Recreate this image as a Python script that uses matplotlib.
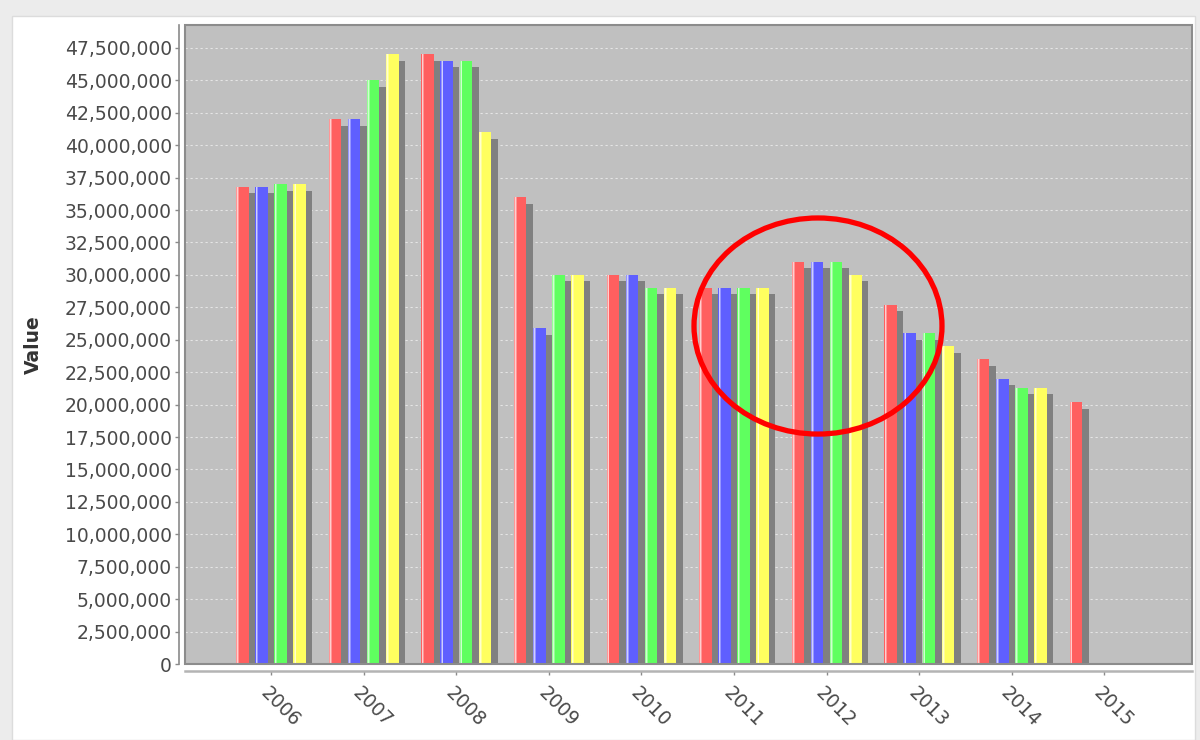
import numpy as np
import matplotlib
matplotlib.use('Agg')
import matplotlib.pyplot as plt
from matplotlib.patches import Ellipse, Rectangle
from matplotlib.transforms import ScaledTranslation, blended_transform_factory, offset_copy
from matplotlib.ticker import FuncFormatter, MultipleLocator

# ---------------- data ----------------
years = ['2006', '2007', '2008', '2009', '2010', '2011', '2012', '2013', '2014', '2015']
series_red = [36.8e6, 42.0e6, 47.0e6, 36.0e6, 30.0e6, 29.0e6, 31.0e6, 27.7e6, 23.5e6, 20.2e6]
series_blue = [36.8e6, 42.0e6, 46.5e6, 25.9e6, 30.0e6, 29.0e6, 31.0e6, 25.5e6, 22.0e6, None]
series_green = [37.0e6, 45.0e6, 46.5e6, 30.0e6, 29.0e6, 29.0e6, 31.0e6, 25.5e6, 21.3e6, None]
series_yellow = [37.0e6, 47.0e6, 41.0e6, 30.0e6, 29.0e6, 29.0e6, 30.0e6, 24.5e6, 21.3e6, None]
series_list = [series_red, series_blue, series_green, series_yellow]
colors = ['#FF5F5F', '#5F5FFF', '#5FFF5F', '#FFFF5F']

plt.rcParams['font.family'] = ['DejaVu Sans']

W, H, DPI = 1200, 740, 100
PT = 72.0 / DPI  # points per pixel
fig = plt.figure(figsize=(W / DPI, H / DPI), dpi=DPI)
fig.patch.set_facecolor('#ececec')
# white panel (screenshot frame)
fig.patches.append(Rectangle((12 / W, 0), (1195 - 12) / W, (H - 16) / H,
                             transform=fig.transFigure, facecolor='white',
                             edgecolor='#dcdcdc', lw=1, zorder=-5))

L, R, T, B = 185, 1192, 25, 664
ax = fig.add_axes([L / W, (H - B) / H, (R - L) / W, (B - T) / H])
ax.set_facecolor('#C0C0C0')

n = len(years)
x = np.arange(n)
px = 1.0 / 92.6  # one pixel in category units
bar_w = 12.5 * px
step = 19.1 * px

shadow_tr = ax.transData + ScaledTranslation(6.5 / DPI, -6.5 / DPI, fig.dpi_scale_trans)

for j, (vals, col) in enumerate(zip(series_list, colors)):
    xs = [xi + (j - 1.5) * step for xi, v in zip(x, vals) if v is not None]
    vs = [v for v in vals if v is not None]
    ax.bar(xs, vs, width=bar_w, color='#808080', zorder=2, transform=shadow_tr, linewidth=0)

for j, (vals, col) in enumerate(zip(series_list, colors)):
    xs = [xi + (j - 1.5) * step for xi, v in zip(x, vals) if v is not None]
    vs = [v for v in vals if v is not None]
    ax.bar(xs, vs, width=bar_w, color=col, zorder=3, linewidth=0)
    # highlight stripe near left edge
    hx = [xx - bar_w / 2 + 0.3 * px for xx in xs]
    ax.bar(hx, vs, width=2.6 * px, align='edge', color='white', alpha=0.35, zorder=4, linewidth=0)
    hx2 = [xx - bar_w / 2 + 1.1 * px for xx in xs]
    ax.bar(hx2, vs, width=1.0 * px, align='edge', color='white', alpha=0.55, zorder=4, linewidth=0)

ax.set_xlim(-0.929, 9.946)
ax.set_ylim(0, 49.27e6)

ax.yaxis.set_major_locator(MultipleLocator(2.5e6))
ax.yaxis.set_major_formatter(FuncFormatter(lambda v, p: f'{int(round(v)):,}'))
ax.set_axisbelow(True)
ax.yaxis.grid(True, color='white', linestyle=(0, (2.0, 2.5)), linewidth=0.8, alpha=0.6)
ax.xaxis.grid(False)

for s in ['top', 'right']:
    ax.spines[s].set_visible(False)
ax.spines['left'].set_position(('outward', 6 * PT))
ax.spines['bottom'].set_position(('outward', 7 * PT))
ax.spines['left'].set_color('#8a8a8a')
ax.spines['left'].set_linewidth(1.2)
ax.spines['bottom'].set_color('#b4b4b4')
ax.spines['bottom'].set_linewidth(1.8)

# plot-area outline
ax.add_patch(Rectangle((0, 0), 1, 1, transform=ax.transAxes, fill=False,
                       edgecolor='#8c8c8c', lw=1.5, zorder=6, clip_on=False))

ax.tick_params(axis='y', direction='out', length=4 * PT, width=1, color='#8a8a8a',
               labelsize=13.5, labelcolor='#4a4a4a', pad=3 * PT)
ax.set_xticks(x)
ax.set_xticklabels([])
ax.tick_params(axis='x', direction='out', length=4 * PT, width=1, color='#8a8a8a')

lab_tr = offset_copy(blended_transform_factory(ax.transData, ax.transAxes),
                     fig=fig, x=9, y=-43, units='dots')
for xi, yr in zip(x, years):
    ax.text(xi, 0, yr, transform=lab_tr, rotation=-45, rotation_mode='anchor',
            ha='center', va='center', fontsize=13.5, color='#4a4a4a', clip_on=False)

ax.set_ylabel('Value', fontsize=13.5, fontweight='bold', color='#333333', va='center')
ax.yaxis.set_label_coords((33 - L) / (R - L), 0.5)

# red annotation ellipse
ax.add_patch(Ellipse((5.907, 26.06e6), 2.678, 16.66e6, fill=False,
                     edgecolor='#FF0000', lw=3.8, zorder=10, clip_on=False))

fig.savefig('out.png', dpi=DPI, facecolor=fig.get_facecolor())
